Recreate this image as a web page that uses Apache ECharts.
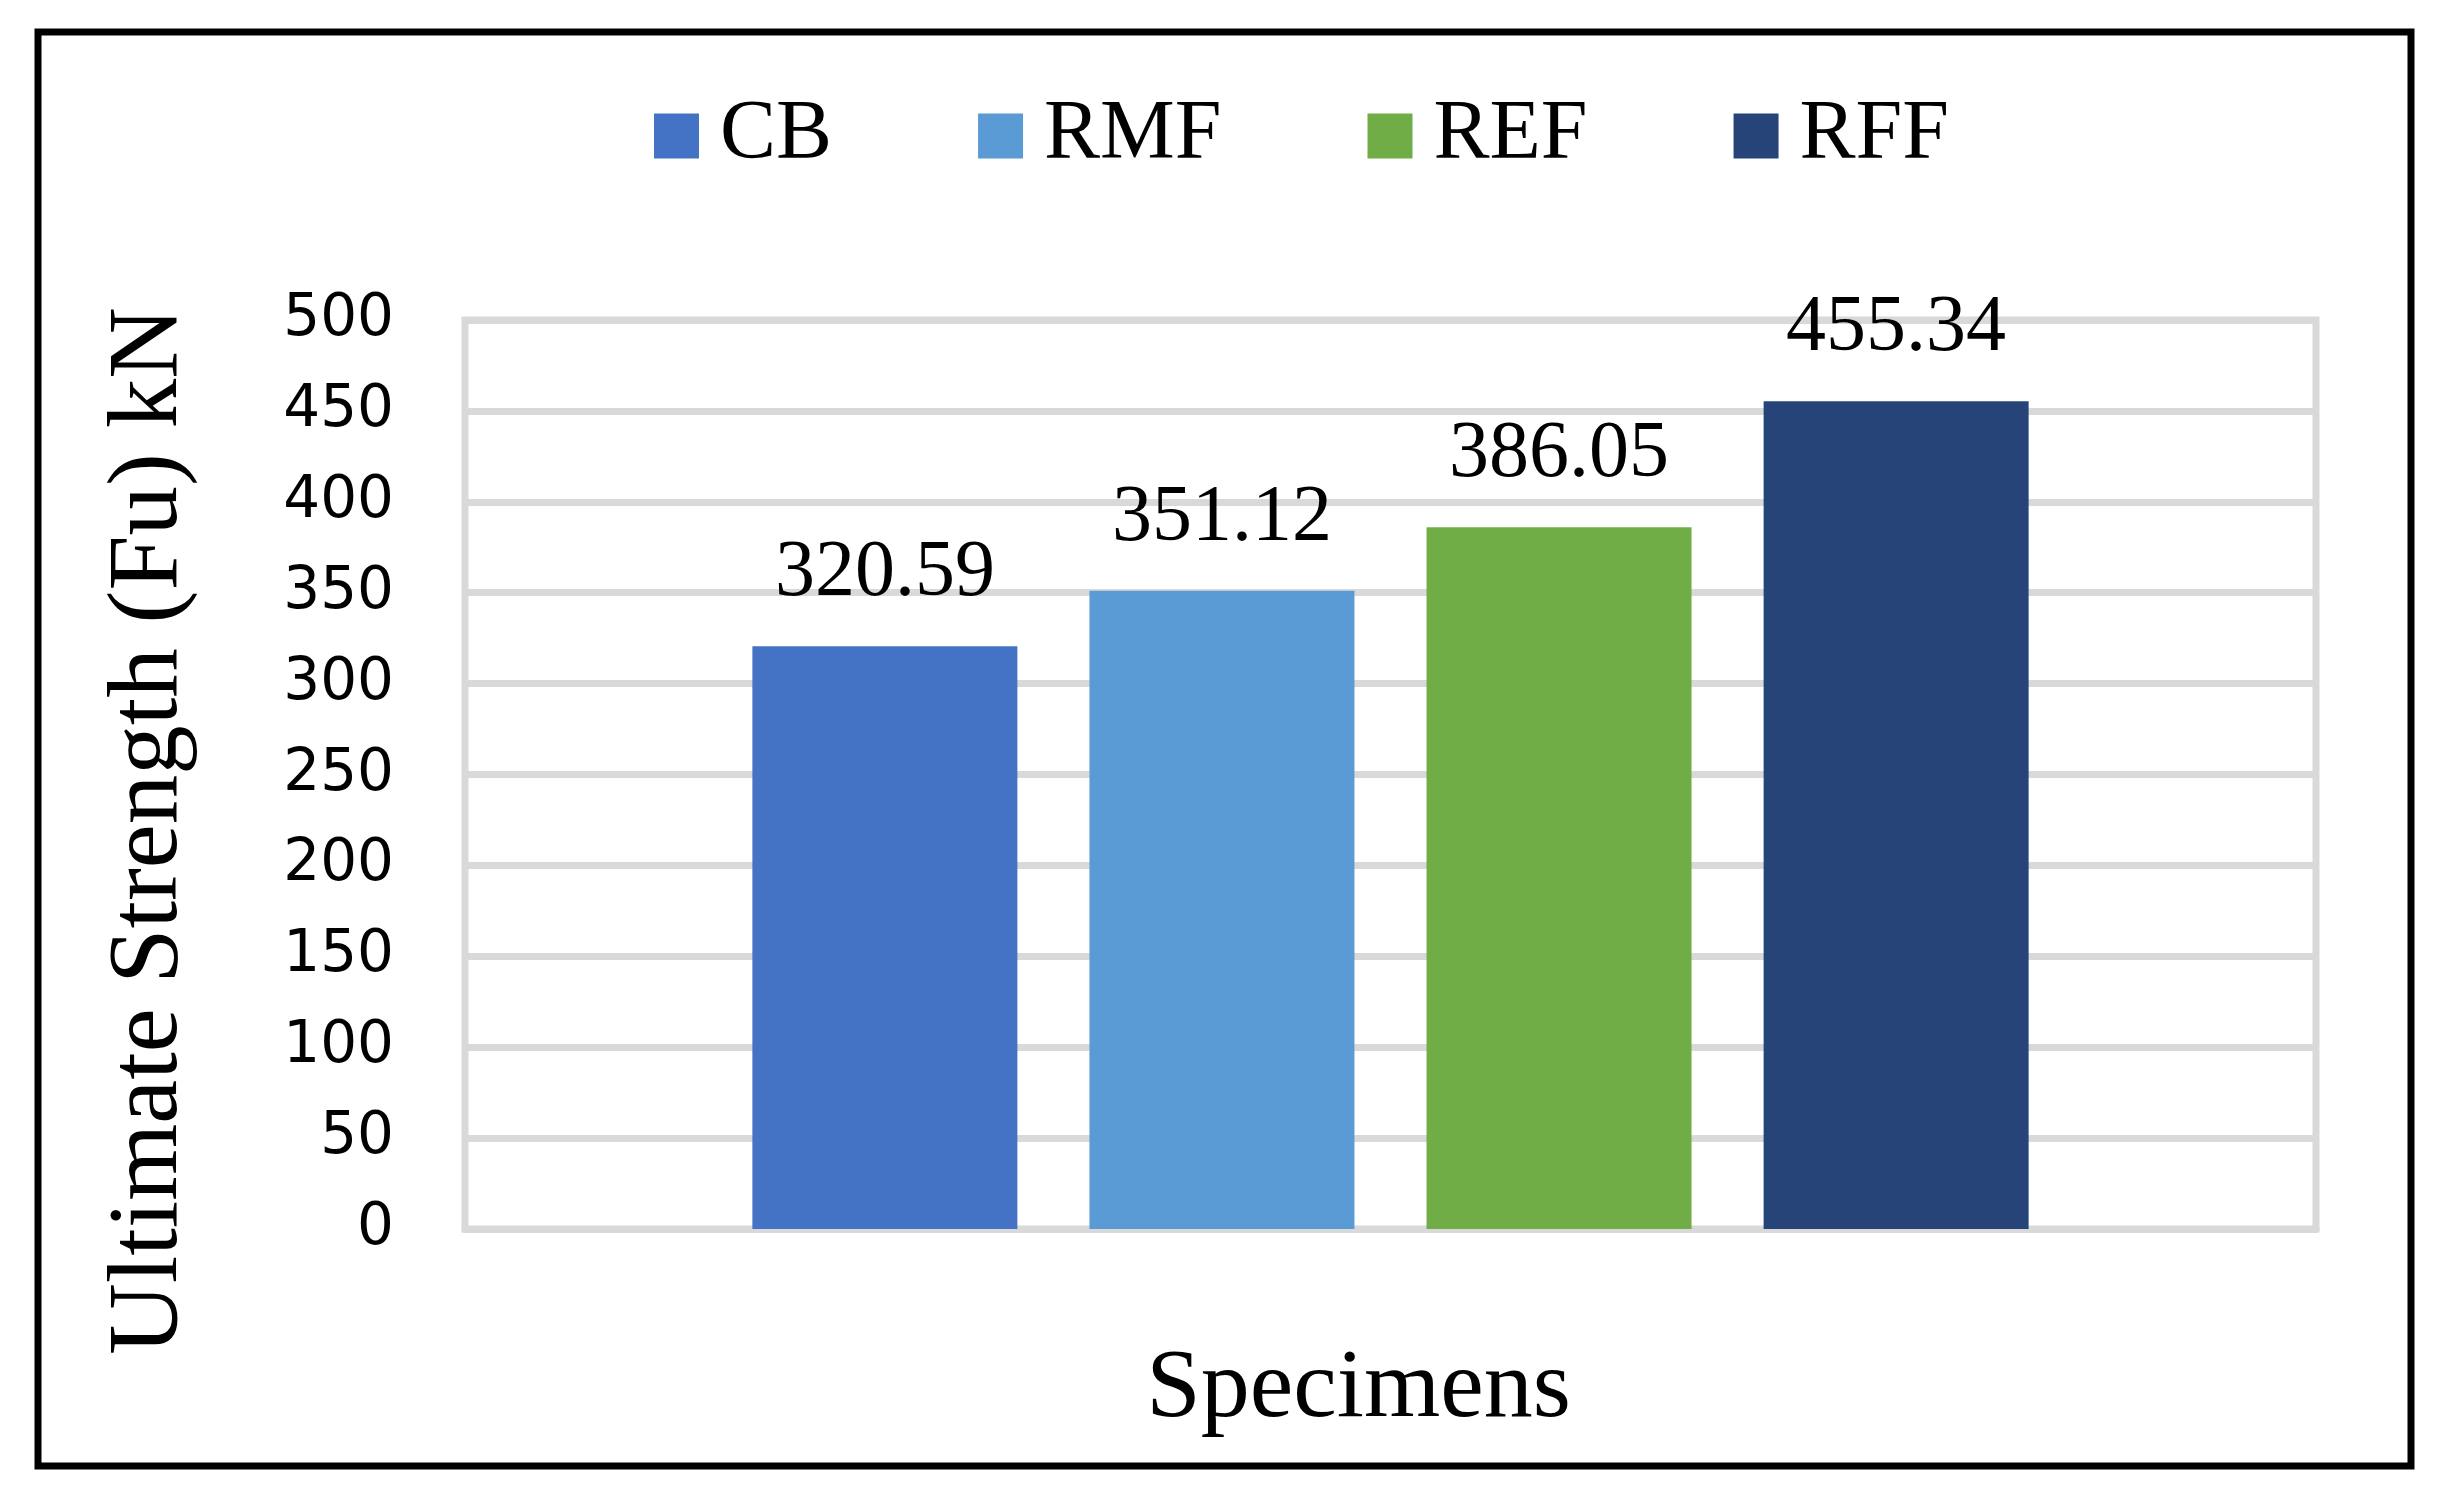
<!DOCTYPE html>
<html>
<head>
<meta charset="utf-8">
<script src="https://cdn.jsdelivr.net/npm/echarts@6/dist/echarts.min.js"></script>
<style>
html,body{margin:0;padding:0;background:#fff;}
#chart{width:2441px;height:1501px;}
</style>
</head>
<body>
<div id="chart"></div>
<script>
const categories = [''];
const seriesNames = ['CB', 'RMF', 'REF', 'RFF'];
const seriesValues = [320.59, 351.12, 386.05, 455.34];
const seriesColors = ['#4472C4', '#5B9BD5', '#70AD47', '#264478'];
const yMin = 0, yMax = 500, yStep = 50;
const xTitle = 'Specimens';
const yTitle = 'Ultimate Strength (Fu) kN';

const serif = '"Liberation Serif", "Times New Roman", serif';
const chart = echarts.init(document.getElementById('chart'));

const series = seriesNames.map((name, i) => ({
  name: name,
  type: 'bar',
  data: [seriesValues[i]],
  barWidth: 265,
  barGap: '27.2%',
  itemStyle: { color: seriesColors[i] },
  label: {
    show: true,
    position: 'top',
    distance: 32,
    formatter: p => p.value.toFixed(2),
    fontFamily: serif,
    fontSize: 80,
    color: '#000'
  }
}));

chart.setOption({
  animation: false,
  backgroundColor: '#fff',
  legend: {
    left: 649,
    top: 88,
    itemWidth: 45,
    itemHeight: 45,
    itemGap: 146,
    icon: 'rect',
    data: seriesNames,
    textStyle: {
      fontFamily: serif,
      fontSize: 84,
      lineHeight: 86,
      color: '#000',
      padding: [0, 0, 0, 16]
    }
  },
  grid: {
    left: 465,
    top: 320,
    width: 1851,
    height: 909,
    show: true,
    borderColor: '#d9d9d9',
    borderWidth: 7,
    containLabel: false
  },
  xAxis: {
    type: 'category',
    data: categories,
    name: xTitle,
    nameLocation: 'middle',
    nameGap: 112,
    nameTextStyle: {
      fontFamily: serif,
      fontSize: 98,
      color: '#000',
      padding: [0, 64, 0, 0]
    },
    axisLine: { show: true, lineStyle: { color: '#d9d9d9', width: 7 } },
    axisTick: { show: false },
    axisLabel: { show: false }
  },
  yAxis: {
    type: 'value',
    min: yMin,
    max: yMax,
    interval: yStep,
    axisLine: { show: false },
    axisTick: { show: false },
    axisLabel: {
      margin: 71,
      fontFamily: '"DejaVu Sans", sans-serif',
      fontSize: 58,
      color: '#000'
    },
    splitLine: { show: true, lineStyle: { color: '#d9d9d9', width: 7 } }
  },
  graphic: [
    {
      type: 'rect',
      shape: { x: 38, y: 32, width: 2373, height: 1434 },
      style: { fill: 'none', stroke: '#000', lineWidth: 7 },
      silent: true
    },
    {
      type: 'text',
      x: 150,
      y: 831,
      rotation: Math.PI / 2,
      style: {
        text: yTitle,
        fontFamily: serif,
        fontSize: 99,
        fill: '#000',
        align: 'center',
        verticalAlign: 'middle'
      }
    }
  ],
  series: series
});
</script>
</body>
</html>
